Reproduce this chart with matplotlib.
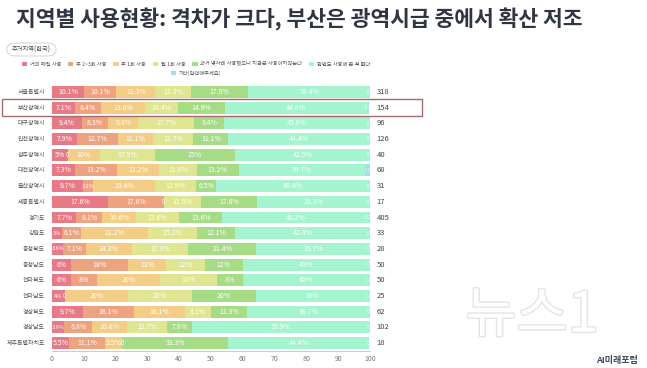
import matplotlib
matplotlib.use("Agg")
import matplotlib.pyplot as plt
from matplotlib.patches import FancyBboxPatch, Rectangle, Patch
import matplotlib.patheffects as pe
import numpy as np

plt.rcParams['font.family'] = ['Noto Sans CJK KR', 'DejaVu Sans']

title = "지역별 사용현황: 격차가 크다, 부산은 광역시급 중에서 확산 저조"
filter_label = "주거지역(한국)"

regions = ["서울특별시", "부산광역시", "대구광역시", "인천광역시", "광주광역시", "대전광역시",
           "울산광역시", "세종특별시", "경기도", "강원도", "충청북도", "충청남도",
           "전라북도", "전라남도", "경상북도", "경상남도", "제주특별자치도"]
counts = [318, 154, 96, 126, 40, 68, 31, 17, 405, 33, 28, 50, 50, 25, 62, 102, 18]

categories = ["거의 매일 사용", "주 2~3회 사용", "주 1회 사용", "월 1회 사용",
              "과거 몇차례 사용했으나 지금은 사용하지않는다", "한번도 사용해 본 적 없다",
              "기타(입력해주세요)"]
colors = ["#e77a86", "#eda37f", "#f3cd86", "#dfe590", "#a6dc86", "#a3f4cf", "#a6dcef"]

daily =     [10.1, 7.1, 9.4, 7.9, 5, 7.3, 9.7, 17.6, 7.7, 3.0, 3.6, 6, 6, 4, 9.7, 3.9, 5.5]
twice =     [10.1, 8.4, 8.3, 12.7, 0, 13.2, 3.2, 17.6, 8.1, 6.1, 7.1, 18, 8, 0, 16.1, 8.8, 11.1]
weekly =    [12.3, 13.6, 9.4, 11.1, 10, 13.2, 19.4, 0, 10.6, 21.2, 14.3, 12, 20, 20, 16.1, 10.8, 5.5]
monthly =   [11.3, 10.4, 17.7, 12.7, 17.5, 11.8, 12.9, 11.8, 13.6, 15.2, 17.9, 12, 18, 20, 8.1, 12.7, 0]
past =      [17.9, 14.9, 9.4, 11.1, 25, 13.2, 6.5, 17.6, 13.6, 12.1, 21.4, 12, 8, 20, 11.3, 7.8, 33.3]
never =     [38.4, 44.8, 45.8, 44.4, 42.5, 39.7, 48.4, 35.3, 46.2, 42.4, 35.7, 40, 40, 36, 38.7, 55.9, 44.4]
other =     [0, 0.6, 0, 0, 0, 1.5, 0, 0, 0.2, 0, 0, 0, 0, 0, 0, 0, 0]

series = [daily, twice, weekly, monthly, past, never, other]
xticks = list(range(0, 101, 10))

fig = plt.figure(figsize=(6.47, 3.68), dpi=100)
W, H = 647, 368

# watermark (behind everything), hollow outline style
fig.text(532 / W, 1 - 316 / H, "뉴스1", fontsize=40, color='white',
         fontstyle='italic', ha='center', va='center', zorder=0,
         path_effects=[pe.withStroke(linewidth=2.0, foreground='#e4e4e4')])

ax = fig.add_axes([52 / W, 1 - 351 / H, (370 - 52) / W, (351 - 84) / H])
ax.patch.set_alpha(0)

y = np.arange(len(regions))
left = np.zeros(len(regions))
for ci, vals in enumerate(series):
    vals = np.array(vals, dtype=float)
    ax.barh(y, vals, left=left, height=0.76, color=colors[ci], edgecolor='none')
    for i, v in enumerate(vals):
        cx = left[i] + v / 2
        if ci == len(series) - 1:
            txt = "0" if v == 0 else f"{v:g}"
            ax.text(99.3, y[i], txt, ha='center', va='center', fontsize=3.5,
                    color='white', alpha=0.9)
        elif v == 0:
            ax.text(cx, y[i], "0", ha='center', va='center', fontsize=4.5, color='white')
        else:
            fs = 5 if v >= 4.5 else 4
            ax.text(cx, y[i], f"{v:g}%", ha='center', va='center', fontsize=fs,
                    color='white')
    left += vals

for i, c in enumerate(counts):
    ax.text(102, y[i], str(c), ha='left', va='center', fontsize=5.5,
            color='#444444', clip_on=False)

ax.set_xlim(0, 100)
ax.set_ylim(len(regions) - 0.5, -0.5)
ax.set_yticks(y)
ax.set_yticklabels(regions, fontsize=4.3, color='#555555')
ax.tick_params(axis='y', length=0, pad=5)
ax.set_xticks(xticks)
ax.set_xticklabels([str(t) for t in xticks], fontsize=5, color='#777777')
ax.tick_params(axis='x', length=0, pad=3)
for s in ['top', 'right', 'left']:
    ax.spines[s].set_visible(False)
ax.spines['bottom'].set_color('#cccccc')
ax.spines['bottom'].set_linewidth(0.8)

# highlight box around 부산광역시
fig.add_artist(Rectangle((1.5 / W, 1 - 116 / H), (422 - 1.5) / W, 17 / H,
                         transform=fig.transFigure, fill=False,
                         edgecolor='#a86a6e', linewidth=1.0))

# title
fig.text(16 / W, 1 - 19 / H, title, fontsize=15.5, fontweight='bold',
         color='#2f3542', ha='left', va='center')

# filter pill
fig.add_artist(FancyBboxPatch((7 / W, 1 - 56 / H), 49 / W, 13 / H,
                              boxstyle="round,pad=0,rounding_size=0.015",
                              transform=fig.transFigure, facecolor='white',
                              edgecolor='#cccccc', linewidth=0.6))
fig.text(31.5 / W, 1 - 49.5 / H, filter_label, fontsize=4.5, color='#444444',
         ha='center', va='center')

# legends
handles = [Patch(facecolor=colors[i], edgecolor='none') for i in range(len(categories))]
leg1 = fig.legend(handles[:6], categories[:6], loc='center', ncol=6,
                  bbox_to_anchor=(196 / W, 1 - 64 / H), frameon=False,
                  fontsize=3.8, handlelength=1.0, handleheight=0.9,
                  handletextpad=0.5, columnspacing=1.3, borderaxespad=0)
for t in leg1.get_texts():
    t.set_color('#555555')
leg2 = fig.legend(handles[6:], categories[6:], loc='center', ncol=1,
                  bbox_to_anchor=(196 / W, 1 - 73 / H), frameon=False,
                  fontsize=3.8, handlelength=1.0, handleheight=0.9,
                  handletextpad=0.5, borderaxespad=0)
for t in leg2.get_texts():
    t.set_color('#555555')

# logo
fig.text(617 / W, 1 - 361 / H, "AI미래포럼", fontsize=6.5, fontweight='bold',
         color='#3a4a5a', ha='center', va='center')

fig.savefig("out.png", dpi=100)
